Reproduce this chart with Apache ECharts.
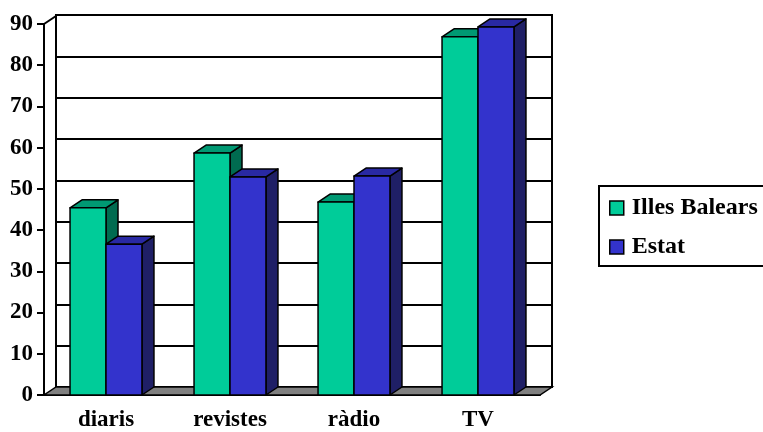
<!DOCTYPE html>
<html>
<head>
<meta charset="utf-8">
<script src="https://cdn.jsdelivr.net/npm/echarts@6/dist/echarts.min.js"></script>
<style>
html,body{margin:0;padding:0;background:#fff;}
#c{width:763px;height:432px;}
</style>
</head>
<body>
<div id="c"></div>
<script>
var categories = ['diaris', 'revistes', 'ràdio', 'TV'];
var illesBalears = [45.4, 58.7, 46.8, 86.9];
var estat = [36.6, 52.9, 53.1, 89.3];
var seriesNames = ['Illes Balears', 'Estat'];
var yTicks = [0, 10, 20, 30, 40, 50, 60, 70, 80, 90];

var DX = 12, DY = -8;           // depth offset of the 3D look
var BAR_FRAC = 0.29;            // bar width as fraction of category band
var FONT = '"Liberation Serif", "Times New Roman", serif';

var faces = [
  { front: '#00CC99', top: '#009973', side: '#006B50' },
  { front: '#3333CC', top: '#2929A3', side: '#1F1F66' }
];

function barRender(si) {
  return function (params, api) {
    var top = api.coord([api.value(0), api.value(1)]);
    var base = api.coord([api.value(0), 0]);
    var band = api.size([1, 0])[0];
    var w = band * BAR_FRAC;
    var x0 = si === 0 ? top[0] - w : top[0];
    var y0 = top[1], y1 = base[1];
    var f = faces[si];
    var ls = { stroke: '#000', lineWidth: 1.5, lineJoin: 'round' };
    return {
      type: 'group',
      children: [
        { type: 'polygon', shape: { points: [[x0 + w, y0], [x0 + w + DX, y0 + DY], [x0 + w + DX, y1 + DY], [x0 + w, y1]] },
          style: Object.assign({ fill: f.side }, ls) },
        { type: 'polygon', shape: { points: [[x0, y0], [x0 + w, y0], [x0 + w + DX, y0 + DY], [x0 + DX, y0 + DY]] },
          style: Object.assign({ fill: f.top }, ls) },
        { type: 'rect', shape: { x: x0, y: y0, width: w, height: y1 - y0 },
          style: Object.assign({ fill: f.front }, ls) }
      ]
    };
  };
}

function frameRender(params, api) {
  var n = categories.length;
  var band = api.size([1, 0])[0];
  var l = api.coord([0, 0]); var r = api.coord([n - 1, 0]);
  var t = api.coord([0, yTicks[yTicks.length - 1]]);
  var xl = l[0] - band / 2, xr = r[0] + band / 2, yb = l[1];
  return {
    type: 'group',
    children: [
      { type: 'polygon', shape: { points: [[xl, yb], [xr, yb], [xr + DX, yb + DY], [xl + DX, yb + DY]] },
        style: { fill: '#808080', stroke: '#000', lineWidth: 1.5 } },
      { type: 'line', shape: { x1: xl, y1: t[1], x2: xl + DX, y2: t[1] + DY },
        style: { stroke: '#000', lineWidth: 2 } }
    ]
  };
}

var chart = echarts.init(document.getElementById('c'), null, { renderer: 'canvas' });
chart.setOption({
  animation: false,
  backgroundColor: '#fff',
  textStyle: { fontFamily: FONT },
  grid: [
    { left: 44, right: 223, top: 24, bottom: 37 },
    { left: 56, right: 211, top: 15, bottom: 45, show: true, borderColor: '#000', borderWidth: 2, backgroundColor: 'transparent' }
  ],
  legend: {
    orient: 'vertical',
    left: 599, top: 186,
    data: seriesNames,
    icon: 'rect',
    itemWidth: 14, itemHeight: 14,
    itemGap: 15,
    padding: [10, 14, 7, 10],
    borderColor: '#000', borderWidth: 2,
    itemStyle: { borderColor: '#000', borderWidth: 1.5 },
    textStyle: { fontFamily: FONT, fontWeight: 'bold', fontSize: 24, color: '#000', lineHeight: 24, padding: [0, 0, 0, 3] }
  },
  xAxis: [
    { type: 'category', gridIndex: 0, data: categories,
      axisLine: { lineStyle: { color: '#000', width: 2 } },
      axisTick: { length: 6, lineStyle: { color: '#000', width: 2 } },
      axisLabel: { color: '#000', fontWeight: 'bold', fontSize: 23, fontFamily: FONT, margin: 14 },
      splitLine: { show: false } },
    { type: 'category', gridIndex: 1, data: categories, show: false }
  ],
  yAxis: [
    { type: 'value', gridIndex: 0, min: 0, max: 90, interval: 10,
      axisLine: { show: true, lineStyle: { color: '#000', width: 2 } },
      axisTick: { show: true, length: 7, lineStyle: { color: '#000', width: 2 } },
      axisLabel: { color: '#000', fontWeight: 'bold', fontSize: 23, fontFamily: FONT, margin: 11 },
      splitLine: { show: false } },
    { type: 'value', gridIndex: 1, min: 0, max: 90, interval: 10,
      axisLine: { show: true, lineStyle: { color: '#000', width: 2 } },
      axisTick: { show: false }, axisLabel: { show: false },
      splitLine: { show: true, lineStyle: { color: '#000', width: 2 } } }
  ],
  series: [
    { type: 'custom', name: 'frame', xAxisIndex: 0, yAxisIndex: 0, z: 1, silent: true,
      renderItem: frameRender, data: [[0, 0]] },
    { type: 'custom', name: seriesNames[0], xAxisIndex: 0, yAxisIndex: 0, z: 3,
      itemStyle: { color: faces[0].front, borderColor: '#000', borderWidth: 1.5 },
      renderItem: barRender(0),
      data: illesBalears.map(function (v, i) { return [i, v]; }) },
    { type: 'custom', name: seriesNames[1], xAxisIndex: 0, yAxisIndex: 0, z: 3,
      itemStyle: { color: faces[1].front, borderColor: '#000', borderWidth: 1.5 },
      renderItem: barRender(1),
      data: estat.map(function (v, i) { return [i, v]; }) }
  ]
});
</script>
</body>
</html>
